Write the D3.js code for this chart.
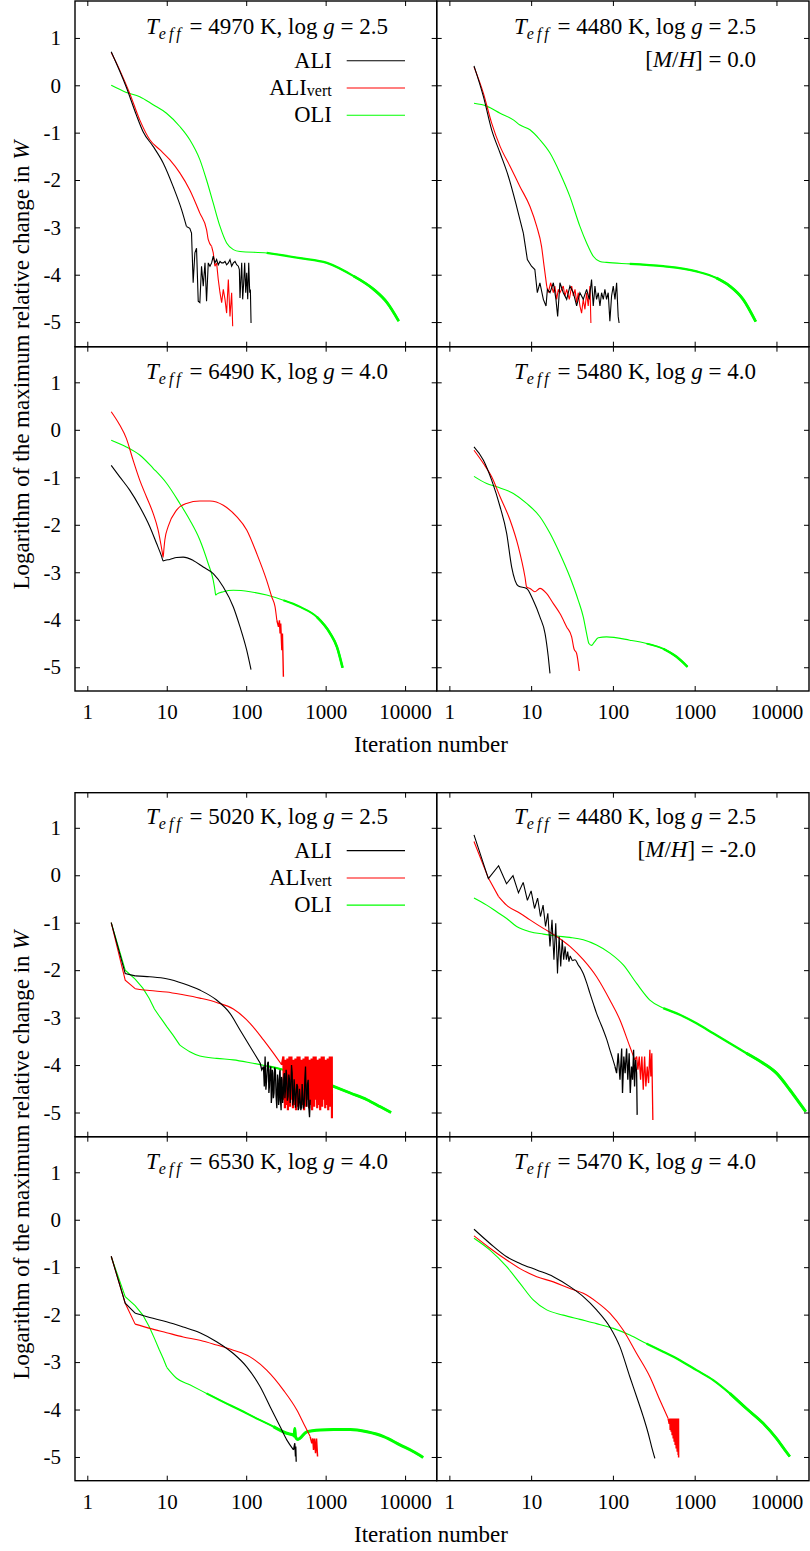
<!DOCTYPE html>
<html>
<head>
<meta charset="utf-8">
<script src="https://cdn.jsdelivr.net/npm/d3@7"></script>
<style>
  body { margin: 0; background: #fff; }
  svg { display: block; }
  text { font-family: "Liberation Serif", "Times New Roman", serif; fill: #000; }
</style>
</head>
<body>
<svg id="chart" width="810" height="1551"></svg>
<script>
// Convergence of the iteration schemes: log10 of the maximum relative change in W
// against iteration number, for ALI, ALI_vert and OLI.  Each series is [iteration, log change].

// ---- Figure 1: solar metallicity models ----
const ali_4970 = [[2,0.71],[3.1,-0.04],[4.15,-0.63],[5.04,-0.98],[6.74,-1.29],[9.01,-1.64],[12.05,-2.14],[15.4,-2.63],[17.7,-2.98],[19.5,-3.02],[20.5,-3.12],[21.5,-4.17],[22.6,-3.54],[23.7,-3.44],[24.9,-4.56],[26.1,-4.59],[27.4,-3.82],[28.8,-4.24],[30.3,-3.75],[31.7,-4.56],[33.3,-3.75],[35.0,-3.82],[36.7,-3.75],[38.5,-3.61],[40.4,-3.75],[42.4,-3.68],[44.5,-3.79],[46.8,-3.72],[49.1,-3.75],[51.5,-3.75],[54.1,-3.72],[56.7,-3.79],[59.6,-3.75],[62.5,-3.68],[65.6,-3.82],[68.9,-3.75],[72.3,-3.72],[75.9,-3.79],[79.6,-3.82],[82.0,-3.89],[83.6,-4.49],[87.8,-3.75],[90.3,-4.52],[93.0,-4.17],[95.7,-3.75],[98.6,-4.38],[101.5,-3.96],[104.5,-4.52],[107.6,-3.75],[110.8,-4.38],[112.9,-4.31],[115.1,-5.02]];
const aliVert_4970 = [[2,0.69],[2.56,0.32],[3.42,-0.17],[4.57,-0.73],[6.12,-1.15],[8.18,-1.36],[10.9,-1.57],[14.6,-1.85],[19.5,-2.21],[26.1,-2.70],[31.7,-3.05],[33.3,-3.26],[36.7,-3.40],[38.5,-3.54],[40.4,-3.82],[42.4,-3.75],[44.5,-4.10],[46.8,-4.38],[49.1,-4.59],[51.5,-4.31],[54.1,-4.52],[56.7,-4.81],[59.6,-4.10],[62.5,-4.88],[65.6,-4.38],[67.6,-5.09]];
const oli_4970 = [[2,0.0],[3.1,-0.15],[4.57,-0.24],[6.74,-0.41],[9.93,-0.59],[14.6,-0.87],[19.5,-1.15],[26.1,-1.57],[31.7,-2.0],[38.5,-2.49],[46.8,-2.98],[56.7,-3.33],[68.9,-3.47],[83.6,-3.51],[181,-3.54],[478,-3.65],[1038,-3.75],[2250,-4.03],[4025,-4.31],[5930,-4.59],[8320,-4.98]];

const ali_4480_m00 = [[2,0.41],[2.61,-0.24],[3.29,-0.94],[4.17,-1.43],[5.26,-1.92],[6.65,-2.56],[8.03,-3.12],[8.99,-3.68],[10.1,-3.82],[11.1,-3.89],[11.9,-4.38],[12.8,-4.17],[14.1,-4.52],[15.2,-4.66],[15.8,-4.31],[17.0,-4.38],[18.7,-4.17],[20.1,-4.52],[21.1,-4.88],[22.5,-4.17],[24.7,-4.38],[27.2,-4.52],[29.8,-4.24],[32.8,-4.38],[36.0,-4.66],[39.5,-4.38],[43.4,-4.52],[47.7,-4.31],[51.4,-4.52],[54.8,-4.10],[57.5,-4.66],[60.3,-4.24],[63.1,-4.52],[66.2,-4.38],[69.4,-4.66],[72.7,-4.38],[76.2,-4.52],[79.8,-4.31],[83.6,-4.52],[87.6,-4.38],[91.8,-4.98],[96.3,-4.45],[101,-4.24],[106,-4.52],[111,-4.17],[116,-4.88],[119,-5.02]];
const aliVert_4480_m00 = [[2,0.39],[2.61,-0.17],[3.29,-0.80],[4.17,-1.29],[5.52,-1.71],[7.31,-2.14],[9.68,-2.56],[11.7,-2.98],[13.4,-3.40],[14.4,-3.82],[15.5,-4.24],[16.2,-4.38],[17.3,-4.17],[18.7,-4.38],[19.5,-4.24],[20.5,-4.52],[21.5,-4.31],[22.5,-4.38],[24.7,-4.24],[25.9,-4.45],[27.2,-4.31],[29.3,-4.52],[31.3,-4.24],[32.8,-4.45],[34.4,-4.31],[36.0,-4.59],[37.7,-4.38],[39.5,-4.66],[41.4,-4.81],[43.4,-4.52],[45.5,-4.73],[47.7,-4.38],[49.9,-4.66],[52.4,-4.24],[53.8,-5.02]];
const oli_4480_m00 = [[2,-0.38],[2.86,-0.44],[4.17,-0.59],[6.06,-0.73],[7.31,-0.84],[9.68,-0.94],[12.8,-1.15],[17.0,-1.43],[22.5,-1.85],[29.8,-2.35],[39.5,-2.98],[47.7,-3.33],[57.5,-3.61],[69.4,-3.72],[83.6,-3.74],[161,-3.77],[412,-3.82],[1052,-3.93],[1846,-4.07],[2686,-4.24],[3910,-4.52],[5580,-4.99]];

const ali_6490 = [[2,-0.75],[2.56,-0.99],[3.42,-1.27],[4.57,-1.62],[6.12,-2.04],[7.43,-2.39],[8.6,-2.66],[9.01,-2.76],[9.6,-2.745],[10.9,-2.73],[13.3,-2.69],[16.1,-2.68],[21.5,-2.75],[28.8,-2.89],[38.5,-3.03],[51.5,-3.31],[68.9,-3.73],[83.6,-4.15],[101.5,-4.64],[115,-5.05]];
const aliVert_6490 = [[2,0.38],[2.56,0.10],[3.1,-0.18],[3.77,-0.64],[4.57,-1.06],[5.55,-1.41],[6.74,-1.76],[7.79,-2.11],[8.75,-2.56],[9.01,-2.68],[9.2,-2.52],[9.46,-2.32],[10.4,-2.04],[13.3,-1.69],[17.7,-1.55],[26.1,-1.50],[35.0,-1.50],[51.5,-1.59],[75.9,-1.83],[101.5,-2.11],[136,-2.61],[181,-3.17],[210,-3.52],[231,-3.73],[243,-4.01],[255,-4.15],[262,-4.01],[267,-4.29],[272,-4.08],[281,-4.64],[286,-4.29],[291,-4.85],[294,-5.2]];
const oli_6490 = [[2,-0.22],[3.1,-0.36],[4.57,-0.53],[6.74,-0.81],[10,-1.13],[14.6,-1.55],[19.5,-1.90],[26.1,-2.32],[33.3,-2.82],[38.5,-3.17],[40.6,-3.40],[41.2,-3.48],[42.6,-3.46],[51.5,-3.41],[68.9,-3.38],[112,-3.41],[181,-3.48],[294,-3.59],[478,-3.73],[775,-3.94],[1143,-4.29],[1387,-4.57],[1634,-5.01]];

const ali_5480 = [[2,-0.36],[2.61,-0.64],[3.29,-1.06],[4.17,-1.62],[5.02,-2.18],[5.78,-2.89],[6.97,-3.29],[8.81,-3.34],[10.6,-3.59],[12.8,-3.94],[14.8,-4.29],[16.2,-4.78],[17.0,-5.13]];
const aliVert_5480 = [[2,-0.43],[2.61,-0.71],[3.29,-0.99],[4.17,-1.41],[5.52,-1.90],[6.97,-2.46],[8.41,-3.10],[8.81,-3.31],[9.68,-3.34],[11.1,-3.41],[12.8,-3.34],[15.5,-3.45],[18.7,-3.66],[22.5,-3.87],[27.2,-4.15],[31.3,-4.36],[33.4,-4.61],[36.0,-4.71],[38.8,-5.08]];
const oli_5480 = [[2,-0.98],[2.86,-1.13],[3.79,-1.20],[6.06,-1.34],[8.81,-1.55],[12.8,-1.83],[17.0,-2.18],[22.5,-2.61],[29.8,-3.10],[37.7,-3.59],[43.4,-3.94],[47.7,-4.29],[50.9,-4.50],[54.8,-4.54],[59.2,-4.47],[66.2,-4.38],[83.6,-4.36],[161,-4.43],[258,-4.50],[412,-4.61],[600,-4.78],[817,-4.99]];

// ---- Figure 2: metal-poor giant and the comparison models ----
const ali_5020 = [[2,-1.0],[3,-2.07],[4,-2.12],[6.12,-2.14],[9.93,-2.18],[16.1,-2.28],[26.1,-2.42],[42.4,-2.63],[62.5,-2.91],[83.6,-3.26],[111.8,-3.61],[150,-3.96],[157,-4.10],[165,-4.03],[169,-4.45],[173,-3.82],[177,-4.52],[181,-4.31],[186,-3.96],[190,-3.93],[193,-4.59],[196,-4.45],[200,-4.10],[204,-4.03],[207,-4.80],[210,-4.66],[213,-4.10],[216,-4.17],[220,-4.70],[224,-4.59],[228,-4.05],[233,-4.10],[238,-4.66],[243,-4.91],[248,-4.20],[252,-4.31],[256,-4.84],[260,-4.73],[264,-4.15],[267,-4.10],[271,-4.77],[275,-4.95],[279,-4.25],[283,-4.31],[288,-4.80],[294,-4.59],[299,-4.20],[303,-4.17],[307,-4.70],[312,-4.52],[318,-4.10],[324,-4.24],[330,-4.75],[337,-4.66],[344,-4.20],[351,-4.31],[358,-4.80],[365,-4.45],[372,-4.00],[379,-4.17],[386,-4.85],[394,-4.73],[401,-4.30],[409,-4.52],[417,-4.90],[426,-4.63],[434,-4.40],[443,-4.45],[451,-4.95],[460,-4.91],[469,-4.50],[478,-4.73],[487,-4.95],[497,-4.88],[506,-4.40],[516,-4.66],[526,-4.92],[537,-4.84],[547,-4.30],[558,-4.03],[569,-4.70],[580,-4.88],[591,-4.40],[603,-4.31],[615,-4.90],[627,-5.10],[639,-4.73]];
const aliVert_5020 = [[2,-1.0],[3,-2.21],[4,-2.39],[6.12,-2.43],[9.93,-2.46],[16.1,-2.52],[26.1,-2.59],[42.4,-2.68],[68.9,-2.82],[111.8,-3.12],[165,-3.47],[220,-3.75],[281,-4.0],
  [294,-3.82],[298,-4.73],[303,-3.96],[307,-4.91],[312,-3.89],[316,-4.59],[321,-3.93],[326,-4.84],[330,-3.86],[335,-4.95],[340,-4.03],[345,-4.81],[350,-3.82],[356,-4.88],[361,-3.96],[366,-4.66],
  [371,-3.82],[377,-4.73],[382,-3.96],[388,-4.91],[394,-3.89],[399,-4.59],[405,-3.93],[411,-4.84],[417,-3.86],[424,-4.95],[430,-4.03],[436,-4.81],[443,-3.82],[449,-4.88],[456,-3.96],[463,-4.66],
  [469,-3.82],[476,-4.73],[483,-3.96],[490,-4.91],[497,-3.89],[505,-4.59],[512,-3.93],[520,-4.84],[527,-3.86],[535,-4.95],[543,-4.03],[551,-4.81],[559,-3.82],[568,-4.88],[576,-3.96],[584,-4.66],
  [593,-3.82],[602,-4.73],[610,-3.96],[619,-4.91],[628,-3.89],[638,-4.59],[647,-3.93],[657,-4.84],[666,-3.86],[676,-4.95],[686,-4.03],[696,-4.81],[706,-3.82],[717,-4.88],[727,-3.96],[738,-4.66],
  [749,-3.82],[760,-4.73],[771,-3.96],[783,-4.91],[794,-3.89],[806,-4.59],[817,-3.93],[829,-4.84],[841,-3.86],[854,-4.95],[866,-4.03],[879,-4.81],[892,-3.82],[905,-4.88],[918,-3.96],[932,-4.66],
  [946,-3.82],[960,-4.73],[974,-3.96],[988,-4.91],[1002,-3.89],[1017,-4.59],[1032,-3.93],[1047,-4.84],[1063,-3.86],[1078,-4.95],[1094,-4.03],[1111,-4.81],[1127,-3.82],[1144,-4.88],[1160,-3.96],[1177,-4.73],[1195,-3.82],[1200,-5.12]];
const oli_5020 = [[2,-1.0],[3,-2.0],[4,-2.19],[5,-2.38],[6,-2.59],[7,-2.82],[8,-2.96],[9,-3.08],[10,-3.19],[12,-3.37],[14.6,-3.58],[19.5,-3.72],[26.1,-3.81],[42.4,-3.86],[68.9,-3.89],[111.8,-3.95],[181,-4.02],[294,-4.10],[478,-4.21],[775,-4.31],[1259,-4.45],[2043,-4.59],[3315,-4.73],[4887,-4.88],[6656,-5.0]];

const ali_4480_m20 = [[2,0.85],[3,-0.07],[4,0.20],[5,-0.18],[6,-0.01],[7,-0.37],[8,-0.15],[9,-0.53],[10,-0.33],[11,-0.70],[12,-0.48],[13,-0.87],[14,-0.63],[15,-1.08],[16,-0.80],[17,-1.50],[18,-0.94],[19,-1.78],[20,-1.01],[21,-2.07],[22,-1.29],[23,-1.92],[24,-1.36],[25,-1.78],[26,-1.50],[27,-1.78],[28,-1.61],[29,-1.82],[30,-1.70],[32,-1.80],[34.4,-1.78],[37.7,-1.89],[40.5,-1.97],[43.4,-2.07],[48,-2.28],[52.4,-2.49],[57.5,-2.70],[63.1,-2.91],[69,-3.08],[76.2,-3.26],[84,-3.46],[91.8,-3.68],[99,-3.86],[106,-4.03],[111,-4.17],[116,-3.75],[122,-4.31],[128,-3.65],[131,-4.59],[136,-3.82],[141,-4.17],[147,-3.65],[152,-4.31],[158,-3.75],[163,-4.59],[169,-4.03],[174,-4.31],[179,-3.68],[184,-4.45],[189,-3.89],[195,-4.17],[198,-5.05]];
const aliVert_4480_m20 = [[2,0.71],[3,-0.06],[4,-0.45],[5,-0.63],[7.31,-0.80],[9.68,-0.94],[14.1,-1.12],[20.5,-1.29],[29.8,-1.50],[43.4,-1.78],[63.1,-2.14],[91.8,-2.63],[122,-3.05],[161,-3.61],[185,-3.89],[195,-3.82],[202,-4.10],[210,-3.82],[218,-4.31],[226,-3.82],[235,-4.52],[244,-3.82],[253,-4.45],[263,-4.03],[273,-4.38],[283,-3.68],[291,-4.24],[299,-3.75],[308,-5.16]];
const oli_4480_m20 = [[2,-0.48],[2.86,-0.63],[3.79,-0.77],[5.02,-0.91],[6.65,-1.08],[9.68,-1.19],[14.1,-1.24],[20.5,-1.28],[29.8,-1.31],[43.4,-1.36],[63.1,-1.47],[91.8,-1.64],[134,-1.89],[195,-2.28],[283,-2.63],[412,-2.80],[658,-2.94],[1052,-3.12],[1683,-3.33],[2690,-3.54],[4296,-3.75],[6870,-3.96],[10000,-4.17],[14550,-4.52],[19280,-4.81],[22800,-4.98]];

const ali_6530 = [[2,-0.77],[3,-1.76],[4,-1.97],[6.12,-2.06],[9.93,-2.15],[16.1,-2.26],[26.1,-2.38],[42.4,-2.57],[68.9,-2.82],[101.5,-3.10],[150,-3.52],[200,-3.94],[267,-4.36],[324,-4.64],[394,-4.85],[409,-4.71],[417,-4.99],[421,-4.78],[426,-5.10]];
const aliVert_6530 = [[2,-0.77],[3,-1.76],[4,-2.20],[6.12,-2.29],[9.93,-2.38],[16.1,-2.47],[26.1,-2.54],[42.4,-2.64],[68.9,-2.75],[111.8,-2.89],[181,-3.17],[294,-3.59],[434,-4.01],[552,-4.36],[639,-4.57],[670,-4.71],[690,-4.61],[704,-4.85],[725,-4.61],[746,-4.92],[768,-4.61],[791,-4.99]];
const oli_6530 = [[2,-0.78],[3,-1.62],[4,-1.81],[5,-2.01],[6,-2.25],[7,-2.50],[8,-2.73],[9,-2.92],[10,-3.11],[13.3,-3.34],[19.5,-3.48],[31.7,-3.66],[51.5,-3.84],[83.6,-4.01],[136,-4.19],[220,-4.36],[324,-4.50],[394,-4.54],[401,-4.56],[409,-4.40],[417,-4.57],[446,-4.63],[580,-4.47],[855,-4.43],[1259,-4.42],[2043,-4.42],[3315,-4.47],[5380,-4.57],[8730,-4.75],[12850,-4.89],[16870,-5.01]];

const ali_5470 = [[2,-0.20],[3.14,-0.50],[5.02,-0.78],[7.31,-0.92],[11.7,-1.06],[18.7,-1.20],[29.8,-1.41],[43.4,-1.62],[63.1,-1.90],[91.8,-2.26],[122,-2.68],[161,-3.31],[195,-3.73],[235,-4.15],[270,-4.50],[297,-4.78],[326,-5.03]];
const aliVert_5470 = [[2,-0.34],[3.14,-0.60],[5.02,-0.85],[7.31,-1.03],[11.7,-1.20],[18.7,-1.31],[29.8,-1.45],[43.4,-1.55],[63.1,-1.73],[91.8,-1.97],[134,-2.33],[195,-2.82],[283,-3.31],[375,-3.80],[474,-4.19],[488,-4.30],[497,-4.19],[502,-4.43],[511,-4.19],[516,-4.47],[525,-4.19],[530,-4.54],[541,-4.19],[546,-4.61],[556,-4.19],[561,-4.68],[572,-4.19],[577,-4.75],[588,-4.19],[594,-4.82],[605,-4.19],[611,-4.89],[622,-4.19],[628,-4.96],[634,-4.19],[636,-5.01]];
const oli_5470 = [[2,-0.39],[3.14,-0.64],[5.02,-0.99],[7.31,-1.34],[10.6,-1.69],[15.5,-1.90],[24.7,-2.01],[39.5,-2.10],[63.1,-2.19],[101,-2.29],[161,-2.43],[258,-2.61],[412,-2.78],[658,-2.96],[1052,-3.17],[1683,-3.38],[2690,-3.66],[4296,-3.98],[6870,-4.29],[10000,-4.61],[12650,-4.85],[14550,-4.99]];

// Axis ticks
const xTickValues = [1, 10, 100, 1000, 10000];
const yTickValues = [-5, -4, -3, -2, -1, 0, 1];
const methodNames = ["ALI", "ALIvert", "OLI"];

// ---- Layout ----
const svg = d3.select("#chart");
const colors = ["#000000", "#ff0000", "#00ff00"];
const columns = [[75, 436.7], [436.7, 809]];
const xDomain = [0.7, 25000];
const figures = [
  { rows: [{ top: 1, bottom: 346.7, domain: [-5.52, 1.78] },
           { top: 346.7, bottom: 691, domain: [-5.5, 1.75] }],
    yLabelCenter: 365 },
  { rows: [{ top: 792.7, bottom: 1136.7, domain: [-5.51, 1.74] },
           { top: 1136.7, bottom: 1480.7, domain: [-5.5, 1.75] }],
    yLabelCenter: 1155 }
];

// sharp: straight segments up to this iteration (one point per iteration there)
// rough: straight segments from this iteration on (oscillating part); smooth in between
// roughWidth: stroke width of the oscillating parts
// tail: [from iteration, stroke width] for the thickened OLI tail
const panels = [
  { f: 0, r: 0, c: 0, teff: "4970", logg: "2.5", mh: null, series: [ali_4970, aliVert_4970, oli_4970], legend: true, sharp: [0, 0, 0], rough: [17.7, 36.7, Infinity], roughWidth: [1.1, 1.1, 1.1], tail: [[300, 2.2], [3000, 2.8]] },
  { f: 0, r: 0, c: 1, teff: "4480", logg: "2.5", mh: "0.0", series: [ali_4480_m00, aliVert_4480_m00, oli_4480_m00], legend: false, sharp: [0, 0, 0], rough: [8.03, 15.5, Infinity], roughWidth: [1.1, 1.1, 1.1], tail: [[250, 2.2], [2000, 2.8]] },
  { f: 0, r: 1, c: 0, teff: "6490", logg: "4.0", mh: null, series: [ali_6490, aliVert_6490, oli_6490], legend: false, sharp: [0, 0, 0], rough: [Infinity, 243, Infinity], roughWidth: [1.1, 1.4, 1.1], tail: [[400, 2.0], [900, 2.6]] },
  { f: 0, r: 1, c: 1, teff: "5480", logg: "4.0", mh: null, series: [ali_5480, aliVert_5480, oli_5480], legend: false, sharp: [0, 0, 0], rough: [Infinity, Infinity, Infinity], roughWidth: [1.1, 1.1, 1.1], tail: [[300, 1.8], [500, 2.4]] },
  { f: 1, r: 0, c: 0, teff: "5020", logg: "2.5", mh: null, series: [ali_5020, aliVert_5020, oli_5020], legend: true, sharp: [4, 4, 14.6], rough: [150, 281, Infinity], roughWidth: [1.3, 2.2, 1.1], tail: [[200, 2.2], [1000, 2.8]] },
  { f: 1, r: 0, c: 1, teff: "4480", logg: "2.5", mh: "-2.0", series: [ali_4480_m20, aliVert_4480_m20, oli_4480_m20], legend: false, sharp: [32, 4, 0], rough: [106, 185, Infinity], roughWidth: [1.3, 1.3, 1.1], tail: [[600, 2.2], [6000, 3.0]] },
  { f: 1, r: 1, c: 0, teff: "6530", logg: "4.0", mh: null, series: [ali_6530, aliVert_6530, oli_6530], legend: false, sharp: [4, 4, 10], rough: [394, 639, Infinity], roughWidth: [1.3, 1.5, 1.1], tail: [[45, 2.0], [250, 3.0]] },
  { f: 1, r: 1, c: 1, teff: "5470", logg: "4.0", mh: null, series: [ali_5470, aliVert_5470, oli_5470], legend: false, sharp: [0, 0, 0], rough: [Infinity, 474, Infinity], roughWidth: [1.1, 1.5, 1.1], tail: [[400, 2.2], [4000, 2.8]] }
];

const tickFont = 21, titleFont = 23, legendFont = 22.5, labelFont = 23;

panels.forEach((p, i) => {
  const row = figures[p.f].rows[p.r];
  const [x0, x1] = columns[p.c];
  const x = d3.scaleLog().domain(xDomain).range([x0, x1]);
  const y = d3.scaleLinear().domain(row.domain).range([row.bottom, row.top]);
  const g = svg.append("g");

  const clipId = "clip" + i;
  g.append("clipPath").attr("id", clipId)
    .append("rect").attr("x", x0).attr("y", row.top)
    .attr("width", x1 - x0).attr("height", row.bottom - row.top);

  const smooth = d3.line().x(d => x(d[0])).y(d => y(d[1])).curve(d3.curveMonotoneX);
  const straight = d3.line().x(d => x(d[0])).y(d => y(d[1]));
  const curves = g.append("g").attr("clip-path", `url(#${clipId})`);

  // thick OLI tail (dense small oscillations)
  p.tail.forEach(([from, w]) => {
    const s = p.series[2];
    const k = s.findIndex(d => d[0] >= from);
    if (k < 0) return;
    curves.append("path").datum(s.slice(Math.max(0, k - 1)))
      .attr("d", smooth).attr("fill", "none")
      .attr("stroke", colors[2]).attr("stroke-width", w)
      .attr("stroke-linejoin", "round");
  });

  [2, 1, 0].forEach(k => {
    const s = p.series[k], a = p.sharp[k], b = p.rough[k];
    const parts = [
      [s.filter(d => d[0] <= a), straight, 1.1],
      [s.filter(d => d[0] >= a && d[0] <= b), smooth, 1.1],
      [s.filter(d => d[0] >= b), straight, p.roughWidth[k]]
    ];
    parts.forEach(([part, gen, w]) => {
      if (part.length < 2) return;
      curves.append("path").datum(part)
        .attr("d", gen).attr("fill", "none")
        .attr("stroke", colors[k]).attr("stroke-width", w)
        .attr("stroke-linejoin", "miter").attr("stroke-miterlimit", 3);
    });
  });

  // axes: ticks on all four sides pointing inwards
  const isBottomRow = p.r === 1, isLeftCol = p.c === 0;
  const fmt = d => String(d);
  const bx = g.append("g").attr("transform", `translate(0,${row.bottom})`)
    .call(d3.axisBottom(x).tickValues(xTickValues).tickSize(-5).tickPadding(13.5)
      .tickFormat(isBottomRow ? fmt : () => ""));
  const tx = g.append("g").attr("transform", `translate(0,${row.top})`)
    .call(d3.axisTop(x).tickValues(xTickValues).tickSize(-5).tickFormat(() => ""));
  const ly = g.append("g").attr("transform", `translate(${x0},0)`)
    .call(d3.axisLeft(y).tickValues(yTickValues).tickSize(-5).tickPadding(14)
      .tickFormat(isLeftCol ? fmt : () => ""));
  const ry = g.append("g").attr("transform", `translate(${x1},0)`)
    .call(d3.axisRight(y).tickValues(yTickValues).tickSize(-5).tickFormat(() => ""));
  [bx, tx, ly, ry].forEach(a => {
    a.select(".domain").remove();
    a.selectAll(".tick line").attr("stroke", "#000").attr("stroke-width", 1);
    a.selectAll(".tick text").attr("font-size", tickFont)
      .attr("font-family", "Liberation Serif").attr("fill", "#000");
  });

  // frame
  g.append("rect").attr("x", x0).attr("y", row.top)
    .attr("width", x1 - x0).attr("height", row.bottom - row.top)
    .attr("fill", "none").attr("stroke", "#000").attr("stroke-width", 1.4);

  // model label
  const titleX = p.c === 0 ? 388 : 756;
  const t = g.append("text").attr("x", titleX).attr("y", y(0) - 51)
    .attr("text-anchor", "end").attr("font-size", titleFont);
  t.append("tspan").attr("font-style", "italic").text("T");
  t.append("tspan").attr("font-style", "italic").attr("font-size", 16)
    .attr("dy", 5).attr("letter-spacing", 3).text("eff");
  t.append("tspan").attr("dy", -5).text(` = ${p.teff} K, log `);
  t.append("tspan").attr("font-style", "italic").text("g");
  t.append("tspan").text(` = ${p.logg}`);
  if (p.mh !== null) {
    const m = g.append("text").attr("x", titleX).attr("y", y(0) - 18.3)
      .attr("text-anchor", "end").attr("font-size", titleFont);
    m.append("tspan").text("[");
    m.append("tspan").attr("font-style", "italic").text("M");
    m.append("tspan").text("/");
    m.append("tspan").attr("font-style", "italic").text("H");
    m.append("tspan").text(`] = ${p.mh}`);
  }

  // legend
  if (p.legend) {
    const offs = [-24.6, 2.7, 29.9];
    methodNames.forEach((name, k) => {
      const ly0 = y(0) + offs[k];
      const lt = g.append("text").attr("x", 331.7).attr("y", ly0 + 7.3)
        .attr("text-anchor", "end").attr("font-size", legendFont);
      if (name === "ALIvert") {
        lt.append("tspan").text("ALI");
        lt.append("tspan").attr("font-size", 16).attr("dy", 1).text("vert");
      } else {
        lt.text(name);
      }
      g.append("line").attr("x1", 346.7).attr("x2", 405)
        .attr("y1", ly0).attr("y2", ly0)
        .attr("stroke", colors[k]).attr("stroke-width", 1.1);
    });
  }
});

// axis titles
figures.forEach(fig => {
  const bottom = fig.rows[1].bottom;
  svg.append("text").attr("x", 431).attr("y", bottom + 61.3)
    .attr("text-anchor", "middle").attr("font-size", labelFont)
    .text("Iteration number");
  const yl = svg.append("text")
    .attr("transform", `translate(29.3,${fig.yLabelCenter}) rotate(-90)`)
    .attr("text-anchor", "middle").attr("font-size", labelFont);
  yl.append("tspan").text("Logarithm of the maximum relative change in ");
  yl.append("tspan").attr("font-style", "italic").text("W");
});
</script>
</body>
</html>
